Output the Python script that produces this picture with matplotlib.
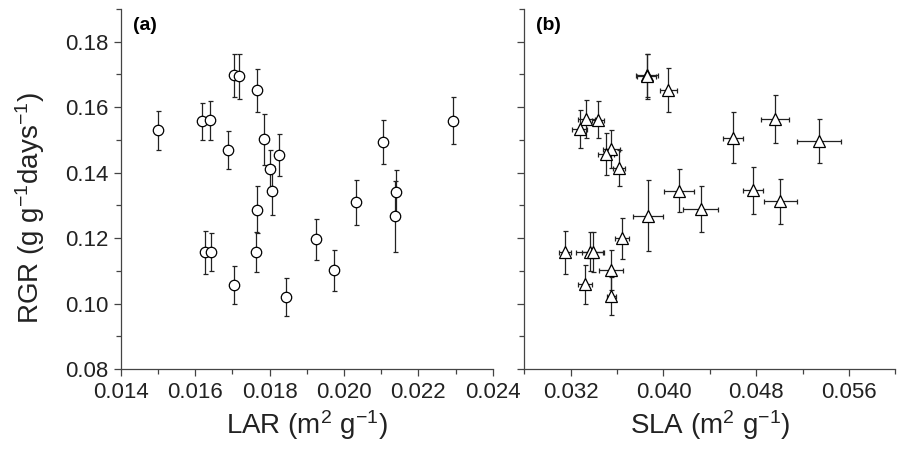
import matplotlib
matplotlib.use("Agg")
import matplotlib.pyplot as plt
from matplotlib.ticker import MultipleLocator, FixedLocator, FormatStrFormatter

plt.rcParams["font.family"] = ["Liberation Sans", "DejaVu Sans"]
plt.rcParams["mathtext.fontset"] = "custom"
plt.rcParams["mathtext.rm"] = "Liberation Sans"
plt.rcParams["mathtext.it"] = "Liberation Sans:italic"
plt.rcParams["mathtext.bf"] = "Liberation Sans:bold"

# panel (a): LAR vs RGR
lar = [0.01500, 0.01619, 0.01639, 0.01687, 0.01704, 0.01717, 0.01766, 0.01784,
       0.01800, 0.01807, 0.01826, 0.01767, 0.02033, 0.02104, 0.02294, 0.02141,
       0.02137, 0.01925, 0.01627, 0.01642, 0.01705, 0.01763, 0.01844, 0.01973]
rgr_a = [0.1529, 0.1557, 0.1560, 0.1469, 0.1697, 0.1694, 0.1651, 0.1502,
         0.1412, 0.1345, 0.1454, 0.1287, 0.1309, 0.1494, 0.1559, 0.1341,
         0.1266, 0.1196, 0.1156, 0.1157, 0.1057, 0.1157, 0.1020, 0.1101]
rgr_a_err = [0.0059, 0.0057, 0.0060, 0.0059, 0.0066, 0.0068, 0.0067, 0.0078,
             0.0058, 0.0074, 0.0064, 0.0072, 0.0068, 0.0067, 0.0073, 0.0066,
             0.0109, 0.0063, 0.0066, 0.0058, 0.0059, 0.0062, 0.0057, 0.0062]

# panel (b): SLA vs RGR
sla = [0.03859, 0.03855, 0.04043, 0.03335, 0.03433, 0.03278, 0.03551, 0.03505,
       0.03617, 0.04600, 0.04962, 0.05343, 0.04136, 0.04320, 0.04775, 0.05008,
       0.03868, 0.03151, 0.03367, 0.03390, 0.03643, 0.03548, 0.03324, 0.03551]
sla_err = [0.00093, 0.00080, 0.00075, 0.00070, 0.00050, 0.00063, 0.00075, 0.00072,
           0.00050, 0.00090, 0.00120, 0.00190, 0.00130, 0.00150, 0.00086, 0.00140,
           0.00130, 0.00050, 0.00120, 0.00090, 0.00060, 0.00100, 0.00060, 0.00040]
rgr_b = [0.1697, 0.1694, 0.1652, 0.1564, 0.1562, 0.1532, 0.1473, 0.1457,
         0.1414, 0.1506, 0.1564, 0.1496, 0.1345, 0.1289, 0.1346, 0.1312,
         0.1268, 0.1157, 0.1159, 0.1157, 0.1199, 0.1103, 0.1059, 0.1023]
rgr_b_err = [0.0066, 0.0068, 0.0067, 0.0059, 0.0056, 0.0058, 0.0058, 0.0063,
             0.0056, 0.0078, 0.0073, 0.0068, 0.0066, 0.0071, 0.0072, 0.0069,
             0.0108, 0.0066, 0.0060, 0.0062, 0.0063, 0.0062, 0.0060, 0.0058]

lar_ticks = [0.014, 0.016, 0.018, 0.020, 0.022, 0.024]
sla_ticks = [0.032, 0.040, 0.048, 0.056]
rgr_ticks = [0.08, 0.10, 0.12, 0.14, 0.16, 0.18]

axis_col = "#444444"
err_col = "#222222"

fig = plt.figure(figsize=(8.99, 4.54), dpi=100)
ax1 = fig.add_axes([0.1343, 0.1872, 0.4138, 0.793])
ax2 = fig.add_axes([0.5833, 0.1872, 0.4126, 0.793])

ax1.errorbar(lar, rgr_a, yerr=rgr_a_err, fmt="o", ms=7.5, mfc="white", mec="black",
             mew=0.9, ecolor=err_col, elinewidth=0.9, capsize=1.8, capthick=0.9)
ax2.errorbar(sla, rgr_b, xerr=sla_err, yerr=rgr_b_err, fmt="^", ms=8.5, mfc="white",
             mec="black", mew=0.9, ecolor=err_col, elinewidth=0.9, capsize=1.8,
             capthick=0.9)

ax1.set_xlim(0.014, 0.024)
ax2.set_xlim(0.028, 0.060)
for ax in (ax1, ax2):
    ax.set_ylim(0.08, 0.19)
    ax.spines["top"].set_visible(False)
    ax.spines["right"].set_visible(False)
    for s in ("left", "bottom"):
        ax.spines[s].set_color(axis_col)
        ax.spines[s].set_linewidth(0.9)
    ax.yaxis.set_major_locator(FixedLocator(rgr_ticks))
    ax.yaxis.set_minor_locator(MultipleLocator(0.01))
    ax.tick_params(which="both", direction="out", color=axis_col, width=0.9,
                   labelsize=16, labelcolor="#222222")
    ax.tick_params(which="major", length=5, pad=4)
    ax.tick_params(which="minor", length=3.5)

ax1.xaxis.set_major_locator(FixedLocator(lar_ticks))
ax1.xaxis.set_minor_locator(MultipleLocator(0.001))
ax1.xaxis.set_major_formatter(FormatStrFormatter("%.3f"))
ax1.yaxis.set_major_formatter(FormatStrFormatter("%.2f"))
ax2.xaxis.set_major_locator(FixedLocator(sla_ticks))
ax2.xaxis.set_minor_locator(MultipleLocator(0.004))
ax2.xaxis.set_major_formatter(FormatStrFormatter("%.3f"))
ax2.tick_params(axis="y", labelleft=False)

ax1.set_xlabel("LAR (m$^2$ g$^{-1}$)", fontsize=20, color="#222222")
ax2.set_xlabel("SLA (m$^2$ g$^{-1}$)", fontsize=20, color="#222222")
ax1.set_ylabel("RGR (g g$^{-1}$days$^{-1}$)", fontsize=20, color="#222222")
ax1.xaxis.set_label_coords(0.5, -0.108)
ax2.xaxis.set_label_coords(0.5, -0.108)
ax1.yaxis.set_label_coords(-0.198, 0.447)

ax1.text(0.032, 0.978, "(a)", transform=ax1.transAxes, fontsize=14,
         fontweight="bold", va="top", ha="left")
ax2.text(0.032, 0.978, "(b)", transform=ax2.transAxes, fontsize=14,
         fontweight="bold", va="top", ha="left")

fig.savefig("out.png", dpi=100)
